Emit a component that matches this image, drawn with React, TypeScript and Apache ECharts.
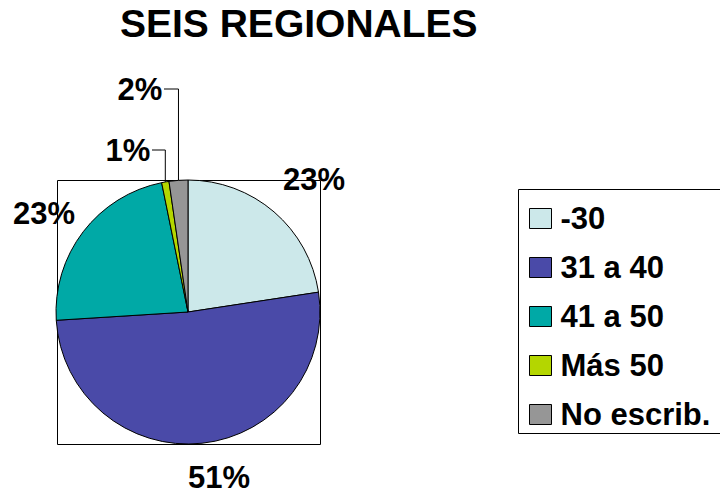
import React, { useEffect, useRef } from "react";
import * as echarts from "echarts";

const titleText = "SEIS REGIONALES";
const categories = ["-30", "31 a 40", "41 a 50", "Más 50", "No escrib."];
const values = [22.6, 51.4, 22.8, 0.9, 2.3];
const colors = ["#CCE8EA", "#4A4AA8", "#00A9A6", "#B4D600", "#969696"];

// label anchor positions (layout only)
const labelPos: [number, number][] = [
  [314, 179],
  [219, 477],
  [44, 213],
  [128, 150],
  [140, 89],
];

const FONT = "'Liberation Sans', Arial, sans-serif";

export default function App() {
  const ref = useRef<HTMLDivElement>(null);
  useEffect(() => {
    if (!ref.current) return;
    const chart = echarts.init(ref.current, null, { renderer: "svg" });
    const data = categories.map((name, i) => ({
      name,
      value: values[i],
      itemStyle: { color: colors[i] },
      labelLine: { show: i >= 3 },
    }));
    chart.setOption({
      animation: false,
      backgroundColor: "#fff",
      title: {
        text: titleText,
        left: 120,
        top: 4,
        padding: 0,
        textStyle: { fontFamily: FONT, fontWeight: "bold", fontSize: 39, color: "#000" },
      },
      legend: {
        orient: "vertical",
        left: 529,
        top: 203,
        padding: 0,
        itemWidth: 22,
        itemHeight: 20,
        itemGap: 18,
        icon: "rect",
        data: categories,
        itemStyle: { borderColor: "#000", borderWidth: 1 },
        textStyle: {
          fontFamily: FONT,
          fontWeight: "bold",
          fontSize: 31,
          lineHeight: 31,
          color: "#000",
          padding: [0, 0, 0, 4],
        },
      },
      graphic: [
        {
          type: "rect",
          z: -1,
          shape: { x: 57.5, y: 180.5, width: 263, height: 264 },
          style: { fill: "none", stroke: "#000", lineWidth: 1 },
        },
        {
          type: "rect",
          z: -1,
          shape: { x: 518.5, y: 189.5, width: 260, height: 244 },
          style: { fill: "none", stroke: "#000", lineWidth: 1 },
        },
      ],
      series: [
        {
          type: "pie",
          center: [188, 312],
          radius: 132,
          startAngle: 90,
          clockwise: true,
          percentPrecision: 0,
          data,
          itemStyle: { borderColor: "#000", borderWidth: 1 },
          label: {
            show: true,
            position: "outside",
            formatter: "{d}%",
            overflow: "none",
            fontFamily: FONT,
            fontWeight: "bold",
            fontSize: 31,
            color: "#000",
          },
          labelLine: {
            lineStyle: { color: "#000", width: 1 },
          },
          labelLayout: (params: any) => {
            const i = params.dataIndex;
            const [lx, ly] = labelPos[i];
            const res: any = {
              x: lx,
              y: ly,
              width: 90,
              align: "center",
              verticalAlign: "middle",
            };
            if (i >= 3 && params.labelLinePoints) {
              const start = params.labelLinePoints[0];
              const endX = lx + 24;
              res.labelLinePoints = [
                [start[0], start[1]],
                [start[0], ly],
                [endX, ly],
              ];
            }
            return res;
          },
        },
      ],
    });
    return () => chart.dispose();
  }, []);
  return (
    <div
      ref={ref}
      style={{ position: "fixed", left: 0, top: 0, width: 720, height: 496 }}
    />
  );
}
